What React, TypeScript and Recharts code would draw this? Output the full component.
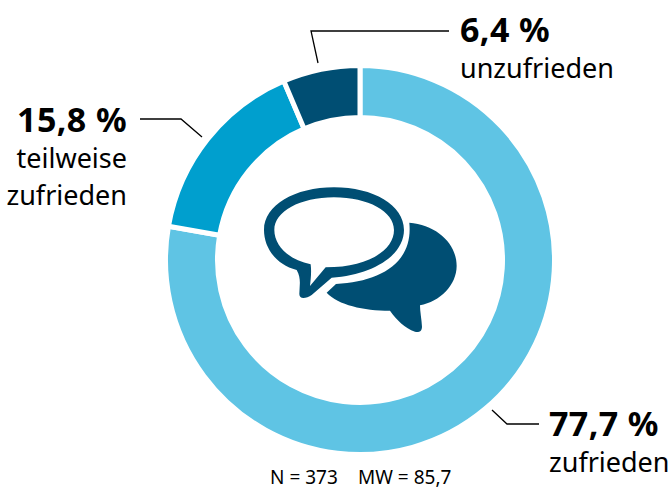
import { Cell, Pie, PieChart } from "recharts";

const categories = ["zufrieden", "teilweise zufrieden", "unzufrieden"];
const shares = [77.7, 15.8, 6.4];
const colors = ["#5FC4E4", "#009FCE", "#004E73"];
const footer = ["N = 373", "MW = 85,7"];

const data = categories.map((name, i) => ({ name, value: shares[i] }));
const pct = (v: number) => `${v.toFixed(1).replace(".", ",")} %`;

const font = "'Noto Sans', sans-serif";

function Labels() {
  const big = { fontSize: 34, fontWeight: 700, fill: "#000", letterSpacing: 0.4 };
  const small = { fontSize: 27, fill: "#000" };
  return (
    <svg
      width={671}
      height={489}
      style={{ position: "absolute", left: 0, top: 0, fontFamily: font }}
    >
      <g fill="none" stroke="#000" strokeWidth={1.3}>
        <polyline points="492,410 507,424 539,424" />
        <polyline points="140,119 181,119 202,137" />
        <polyline points="449,31 311,31 318,63" />
      </g>

      <text x={549} y={436} {...big}>{pct(shares[0])}</text>
      <text x={549} y={472} {...small}>zufrieden</text>

      <text x={127} y={132} textAnchor="end" {...big}>{pct(shares[1])}</text>
      <text x={127} y={168} textAnchor="end" {...small}>teilweise</text>
      <text x={127} y={205} textAnchor="end" {...small}>zufrieden</text>

      <text x={460} y={42} {...big}>{pct(shares[2])}</text>
      <text x={460} y={78} {...small}>unzufrieden</text>

      <text x={270} y={484} fontSize={19} fill="#000">{footer[0]}</text>
      <text x={358} y={484} fontSize={19} fill="#000">{footer[1]}</text>

      {/* speech bubbles, traced in 3x crop coords */}
      <g transform="translate(240 180) scale(0.3333)" fill="#004E73">
        <path
          fillRule="evenodd"
          d="M170 270C110 255 72 205 72 150C72 75 165 22 282 22C400 22 492 75 492 150C492 225 400 285 275 293L215 345C200 355 178 360 178 342C178 320 185 295 170 270ZM212 253C150 240 103 200 103 150C103 95 180 52 282 52C385 52 462 95 462 150C462 210 385 262 257 262L210 318C212 300 215 275 212 253Z"
        />
        <path d="M508 128C590 135 650 190 650 258C650 315 600 365 540 376C540 395 545 420 546 440C546 455 535 458 525 455C495 445 470 420 450 392C370 392 295 375 260 338L288 312C420 305 520 250 508 128Z" />
      </g>
    </svg>
  );
}

export default function App() {
  return (
    <div style={{ position: "absolute", left: 0, top: 0, width: 671, height: 489 }}>
      <PieChart width={671} height={489} margin={{ top: 0, right: 0, bottom: 0, left: 0 }}>
        <Pie
          data={data}
          dataKey="value"
          cx={360}
          cy={260}
          outerRadius={194.5}
          innerRadius={142.5}
          startAngle={90}
          endAngle={-270}
          stroke="#fff"
          strokeWidth={5}
          isAnimationActive={false}
        >
          {data.map((d, i) => (
            <Cell key={d.name} fill={colors[i]} />
          ))}
        </Pie>
      </PieChart>
      <Labels />
    </div>
  );
}
